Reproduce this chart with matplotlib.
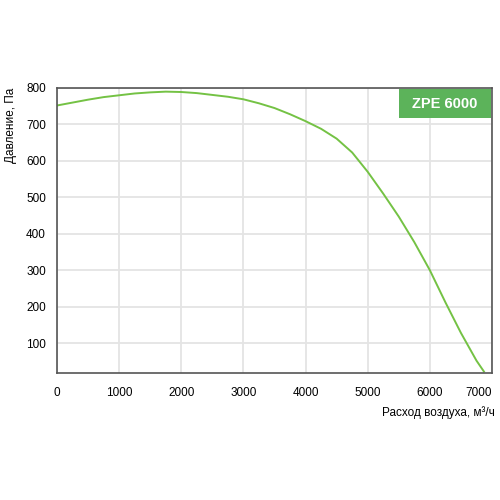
import matplotlib
matplotlib.use("Agg")
import matplotlib.pyplot as plt
from matplotlib.patches import Rectangle

# Fan curve
airflow = [0, 250, 500, 750, 1000, 1250, 1500, 1750, 2000, 2250, 2500, 2750,
           3000, 3250, 3500, 3750, 4000, 4250, 4500, 4750, 5000, 5250, 5500,
           5750, 6000, 6250, 6500, 6750, 6870]
pressure = [752, 760, 768, 775, 780, 785, 788, 790, 789, 786, 781, 776,
            769, 758, 745, 728, 709, 688, 661, 623, 570, 510, 447,
            377, 300, 212, 128, 52, 22]

x_ticks = [0, 1000, 2000, 3000, 4000, 5000, 6000, 7000]
y_ticks = [100, 200, 300, 400, 500, 600, 700, 800]
model = "ZPE 6000"
x_label = "Расход воздуха, м³/ч"
y_label = "Давление, Па"

plt.rcParams["font.family"] = ["Liberation Sans", "DejaVu Sans"]

fig = plt.figure(figsize=(5, 5), dpi=100)
ax = fig.add_axes([0.114, 0.254, 0.87, 0.57])

ax.plot(airflow, pressure, color="#74c244", linewidth=1.4, zorder=2)

ax.set_xlim(0, 7000)
ax.set_ylim(18, 800)
ax.set_xticks(x_ticks)
ax.set_yticks(y_ticks)
ax.grid(True, color="#e4e4e4", linewidth=1.3)
ax.set_axisbelow(True)
ax.tick_params(length=0, labelsize=8.5)
ax.tick_params(axis="x", pad=10)
ax.tick_params(axis="y", pad=8)
ax.get_xticklabels()[-1].set_horizontalalignment("right")
for s in ax.spines.values():
    s.set_color("#555555")
    s.set_linewidth(1.2)

# model badge in the top-right corner
ax.add_patch(Rectangle((0.786, 0.895), 0.212, 0.1, transform=ax.transAxes,
                       facecolor="#5cb35a", edgecolor="none", zorder=3))
ax.text(0.892, 0.945, model, transform=ax.transAxes, ha="center", va="center",
        color="white", fontsize=10.5, fontweight="bold", zorder=4)

fig.text(0.99, 0.174, x_label, ha="right", va="center", fontsize=8.5)
fig.text(0.022, 0.824, y_label, ha="center", va="top", rotation=90, fontsize=8.5)

fig.savefig("out.png", dpi=100)
